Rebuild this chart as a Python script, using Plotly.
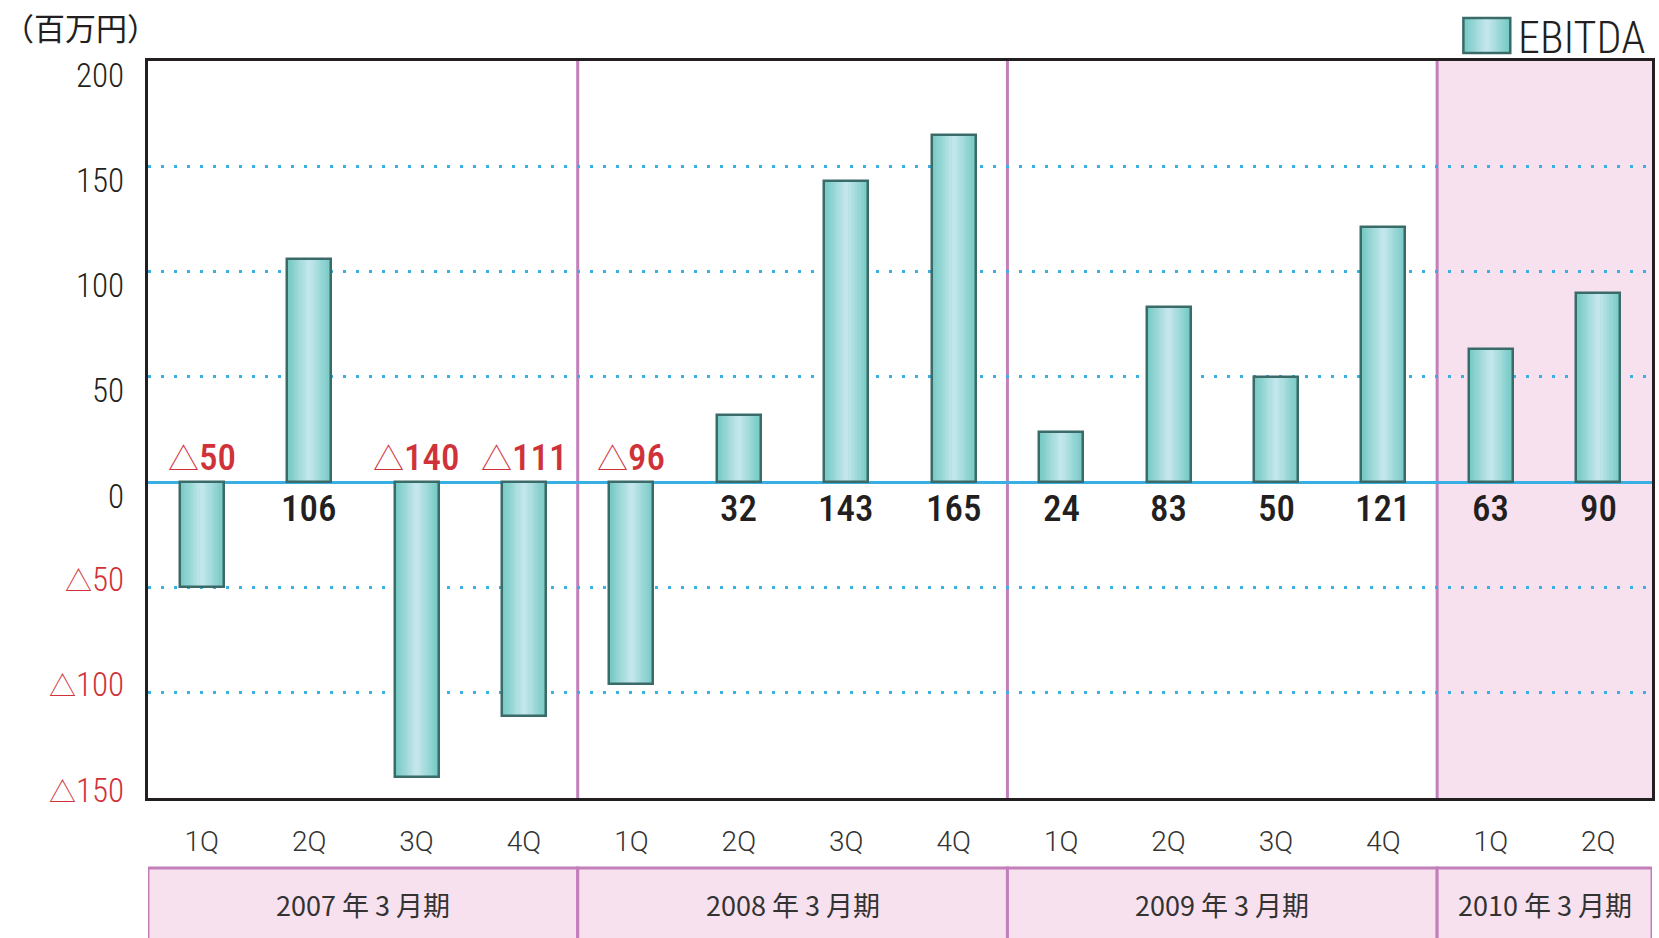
import plotly.graph_objects as go

# ---------------- data ----------------
quarters = ["1Q", "2Q", "3Q", "4Q", "1Q", "2Q", "3Q", "4Q",
            "1Q", "2Q", "3Q", "4Q", "1Q", "2Q"]
ebitda = [-50, 106, -140, -111, -96, 32, 143, 165, 24, 83, 50, 121, 63, 90]
fiscal_years = ["2007 年 3 月期", "2008 年 3 月期", "2009 年 3 月期", "2010 年 3 月期"]
year_counts = [4, 4, 4, 2]
y_tick_vals = [200, 150, 100, 50, 0, -50, -100, -150]
y_tick_text = ["200", "150", "100", "50", "0", "△50", "△100", "△150"]
unit_label = "（百万円）"
series_name = "EBITDA"

# ---------------- style ----------------
W, H = 1659, 938
ML, MR, MT, MB = 148, 4, 61, 140
PW, PH = W - ML - MR, H - MT - MB
COND = "Roboto Condensed, Roboto, sans-serif"
ROBOTO = "Roboto, sans-serif"
CJK = "Noto Sans CJK JP, Noto Sans, sans-serif"
EDGE = (0x76, 0xca, 0xc5)
CENTER = (0xc2, 0xe6, 0xeb)
OUTLINE = "#3b6b68"
PURPLE = "#c27fba"
PINK = "#f7e1ee"
BLACK = "#231f20"
RED = "#d0323a"
BLUE = "#3aafe2"
BAR_W = 0.41
N_LAYERS = 10


def mix(t):
    c = [round(EDGE[i] + (CENTER[i] - EDGE[i]) * t) for i in range(3)]
    return "rgb(%d,%d,%d)" % tuple(c)


def px2x(px):
    return (px - ML) / PW


def py2y(py):
    return (MT + PH - py) / PH


def tri(text, size):
    # render the △ mark with a CJK font so it has the full-size outline shape
    if text.startswith("△"):
        return ("<span style='font-family:Noto Sans CJK JP;font-size:%dpx;font-weight:300'>△</span>%s"
                % (size, text[1:]))
    return text


x_idx = list(range(len(ebitda)))

fig = go.Figure()
for k in range(N_LAYERS):
    t = k / (N_LAYERS - 1)
    fig.add_trace(go.Bar(
        x=x_idx, y=ebitda, width=BAR_W * (1 - k / N_LAYERS),
        marker=dict(color=mix(t), line=dict(width=0)),
        showlegend=False, hoverinfo="skip"))
fig.add_trace(go.Bar(
    x=x_idx, y=ebitda, width=BAR_W, name=series_name,
    marker=dict(color="rgba(0,0,0,0)", line=dict(color=OUTLINE, width=2.5)),
    showlegend=False))

shapes = []
annotations = []

# pink background for last fiscal year + year separators
start = sum(year_counts[:-1])
shapes.append(dict(type="rect", xref="x", yref="paper", x0=start - 0.5, x1=len(ebitda) - 0.5,
                   y0=0, y1=1, fillcolor=PINK, line=dict(width=0), layer="below"))
pos = -0.5
for c in year_counts[:-1]:
    pos += c
    shapes.append(dict(type="line", xref="x", yref="paper", x0=pos, x1=pos, y0=0, y1=1,
                       line=dict(color=PURPLE, width=3), layer="below"))

# fiscal year boxes below the chart
pos = -0.5
for name, c in zip(fiscal_years, year_counts):
    shapes.append(dict(type="rect", xref="x", yref="paper", x0=pos, x1=pos + c,
                       y0=py2y(950), y1=py2y(868), fillcolor=PINK,
                       line=dict(color=PURPLE, width=3)))
    annotations.append(dict(text=name, xref="x", yref="paper", x=pos + c / 2, y=py2y(904),
                            showarrow=False, xanchor="center", yanchor="middle",
                            font=dict(family=CJK, size=27, color="#333333")))
    pos += c

# y tick labels
for v, t in zip(y_tick_vals, y_tick_text):
    annotations.append(dict(text=tri(t, 27), xref="paper", yref="y", x=0, y=v, xshift=-22,
                            yshift=-14 if v >= 0 else 8,
                            showarrow=False, xanchor="right", yanchor="middle",
                            font=dict(family=COND, size=33, weight=300,
                                      color=BLACK if v >= 0 else RED)))

# value labels
for i, v in enumerate(ebitda):
    txt = str(v) if v >= 0 else "△" + str(-v)
    annotations.append(dict(text=tri(txt, 31), xref="x", yref="y", x=i, y=0,
                            yshift=-26 if v >= 0 else 26,
                            showarrow=False, xanchor="center", yanchor="middle",
                            font=dict(family=COND, size=37, weight=500,
                                      color=BLACK if v >= 0 else RED)))

# unit label
annotations.append(dict(text=unit_label, xref="paper", yref="paper", x=px2x(1), y=py2y(26),
                        showarrow=False, xanchor="left", yanchor="middle",
                        font=dict(family=CJK, size=31, color=BLACK)))

# legend (drawn)
lx0, lx1, ly0, ly1 = 1466, 1513, 18, 53
for k in range(N_LAYERS):
    t = k / (N_LAYERS - 1)
    inset = (lx1 - lx0) / 2 * k / N_LAYERS
    shapes.append(dict(type="rect", xref="paper", yref="paper",
                       x0=px2x(lx0 + inset), x1=px2x(lx1 - inset),
                       y0=py2y(ly1), y1=py2y(ly0), fillcolor=mix(t), line=dict(width=0)))
shapes.append(dict(type="rect", xref="paper", yref="paper",
                   x0=px2x(lx0), x1=px2x(lx1), y0=py2y(ly1), y1=py2y(ly0),
                   line=dict(color=OUTLINE, width=2.5)))
annotations.append(dict(text=series_name, xref="paper", yref="paper", x=px2x(1519), y=py2y(38),
                        showarrow=False, xanchor="left", yanchor="middle",
                        font=dict(family=COND, size=44, weight=300, color=BLACK)))

fig.update_layout(
    width=W, height=H, margin=dict(l=ML, r=MR, t=MT, b=MB, pad=0),
    paper_bgcolor="white", plot_bgcolor="white",
    barmode="overlay", bargap=0, showlegend=False,
    shapes=shapes, annotations=annotations,
)
fig.update_xaxes(range=[-0.5, len(ebitda) - 0.5], tickvals=x_idx, ticktext=quarters,
                 showline=True, linecolor=BLACK, linewidth=3, mirror=True,
                 showgrid=False, zeroline=False, ticks="", ticklabelstandoff=16,
                 tickfont=dict(family=ROBOTO, size=28, weight=300, color="#333333"))
fig.update_yaxes(range=[-150, 200], tickvals=y_tick_vals, showticklabels=False,
                 showline=True, linecolor=BLACK, linewidth=3, mirror=True,
                 showgrid=True, gridcolor=BLUE, gridwidth=3, griddash="3px,10px",
                 zeroline=True, zerolinecolor=BLUE, zerolinewidth=3, ticks="")

fig.write_html("out.html", config={"displayModeBar": False},
               post_script="document.body.style.margin='0';document.body.style.overflow='hidden';")
